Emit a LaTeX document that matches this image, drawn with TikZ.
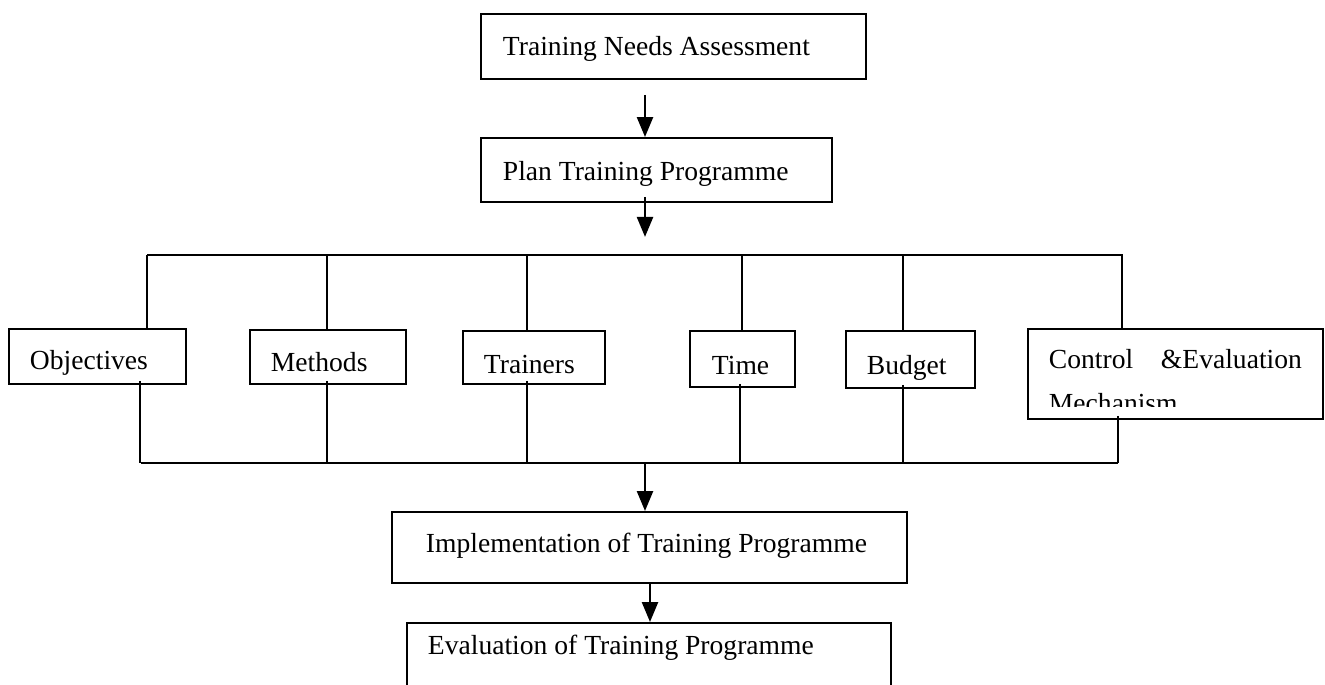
\documentclass[tikz,border=0pt]{standalone}
\usepackage{fontspec}
\setmainfont{Liberation Serif}
\usetikzlibrary{arrows.meta}

\begin{document}
\begin{tikzpicture}[x=0.02cm, y=-0.02cm,
  box/.style={draw, line width=1.1pt, anchor=north west, inner ysep=0pt, inner xsep=0.42cm,
    align=flush left, font=\fontsize{15.7}{25}\selectfont},
  link/.style={line width=1.1pt},
  arr/.style={line width=1.4pt, -{Triangle[length=0.4cm,width=0.32cm]}}]
\useasboundingbox (0,0) rectangle (1325,684);
\clip (0,0) rectangle (1325,684);
% top of the chart
\node [box, inner xsep=0.44cm, text width=6.82cm, text height=0.84cm, text depth=0.46cm] (tna) at (480,13) {Training Needs Assessment};
\node [box, inner xsep=0.44cm, text width=6.14cm, text height=0.86cm, text depth=0.42cm] (plan) at (480,137) {Plan Training Programme};
% the six parts of the plan
\node [box, text width=2.7cm, text height=0.82cm, text depth=0.28cm] (obj) at (8,328) {Objectives};
\node [box, text width=2.28cm, text height=0.84cm, text depth=0.24cm] (meth) at (249,329) {Methods};
\node [box, text width=2.0cm, text height=0.86cm, text depth=0.2cm] (trn) at (462,330) {Trainers};
\node [box, inner xsep=0.44cm, text width=1.22cm, text height=0.88cm, text depth=0.24cm] (time) at (689,330) {Time};
\node [box, text width=1.74cm, text height=0.88cm, text depth=0.26cm] (bud) at (845,330) {Budget};
\node [box, text width=5.06cm, text height=0.8cm, text depth=1.0cm] (ctl) at (1027,328) {Control\hfill\&Evaluation\\Mechanism};
\fill [white] (1029,407) rectangle (1320,416);
% bottom of the chart
\node [box, inner xsep=0.68cm, text width=8.94cm, text height=0.82cm, text depth=0.6cm] (impl) at (391,511) {Implementation of Training Programme};
\node [box, text width=8.84cm, text height=0.64cm, text depth=0.92cm] (eval) at (406,622) {Evaluation of Training Programme};
% connectors
\coordinate (tl) at (147,255);
\coordinate (tr) at (1123,255);
\coordinate (bl) at (141,463);
\coordinate (br) at (1118,463);
\draw [arr] ([yshift=-0.3cm]tna.south -| 645,0) -- (plan.north -| 645,0);
\draw [arr] ([yshift=0.12cm]plan.south -| 645,0) -- ++(0,40);
\draw [link] (tl) -- (tr);
\draw [link] (bl) -- (br);
\foreach \n/\x in {obj/147, meth/327, trn/527, time/742, bud/903, ctl/1122}
  \draw [link] (tl -| \x,0) -- (\n.north -| \x,0);
\foreach \n/\x in {obj/140, meth/327, trn/527, time/740, bud/903, ctl/1118}
  \draw [link] ([yshift=0.08cm]\n.south -| \x,0) -- (bl -| \x,0);
\draw [arr] (bl -| 645,0) -- (impl.north -| 645,0);
\draw [arr] (impl.south -| 650,0) -- (eval.north -| 650,0);
\end{tikzpicture}
\end{document}
